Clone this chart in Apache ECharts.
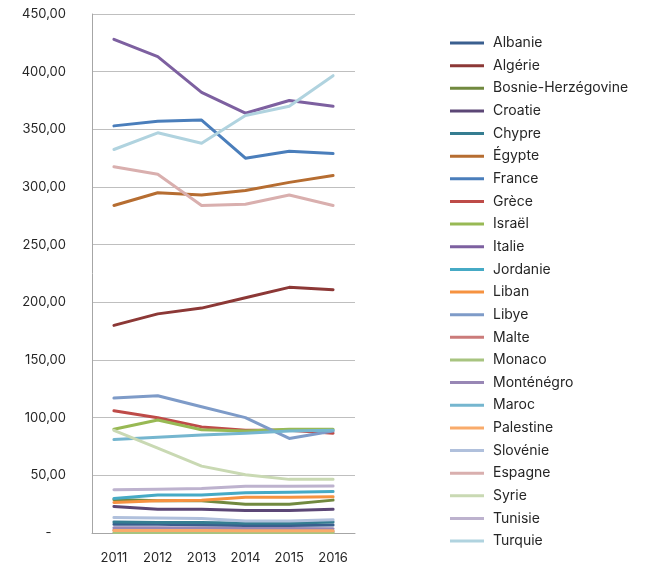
<!DOCTYPE html>
<html>
<head>
<meta charset="utf-8">
<script src="https://cdn.jsdelivr.net/npm/echarts@6/dist/echarts.min.js"></script>
<style>html,body{margin:0;padding:0;background:#fff;}#c{width:654px;height:569px;}</style>
</head>
<body>
<div id="c"></div>
<script>
var years = ['2011', '2012', '2013', '2014', '2015', '2016'];
var countries = ['Albanie', 'Algérie', 'Bosnie-Herzégovine', 'Croatie', 'Chypre', 'Égypte', 'France', 'Grèce', 'Israël', 'Italie', 'Jordanie', 'Liban', 'Libye', 'Malte', 'Monaco', 'Monténégro', 'Maroc', 'Palestine', 'Slovénie', 'Espagne', 'Syrie', 'Tunisie', 'Turquie'];
var colors = ['#3A5F8F', '#8C3836', '#71893F', '#5C4776', '#357D91', '#B66D31', '#4A7EBB', '#BE4B48', '#98B954', '#7D60A0', '#46AAC5', '#F69240', '#7E9BC8', '#CB7B7A', '#A8C480', '#9887B5', '#75B6CF', '#F9AB6B', '#B0C0DC', '#D9AFAE', '#C9D9B3', '#BDB2CE', '#B0D3DF'];

var albanie = [7.5, 7.5, 7, 6.5, 6.5, 7];
var algerie = [180, 190, 195, 204, 213, 211];
var bosnie = [29, 28, 28, 25, 25, 28.5];
var croatie = [23, 20.5, 20.5, 19.5, 19.5, 20.5];
var chypre = [9.5, 9, 9, 8.5, 8.5, 9.5];
var egypte = [284, 295, 293, 297, 304, 310];
var france = [353, 357, 358, 325, 331, 329];
var grece = [106, 100, 92, 89, 89, 86.5];
var israel = [90, 98, 89.5, 88.5, 90, 90];
var italie = [428, 413, 382, 364, 375, 370];
var jordanie = [30, 33, 33, 35, 35.3, 36];
var liban = [26.5, 28, 28.5, 31, 31, 31.5];
var libye = [117, 119, 109.5, 100, 82, 88.5];
var malte = [2.5, 2.5, 2.5, 2, 1.5, 1.5];
var monaco = [0.5, 0.5, 0.5, 0.5, 0.5, 0.5];
var montenegro = [4.5, 4.5, 4.3, 4, 4, 3.7];
var maroc = [81, 83, 85, 86.5, 88.5, 89];
var palestine = [2.2, 2.2, 2.2, 2, 2, 2];
var slovenie = [13.5, 13, 12.5, 10.5, 10.5, 11.5];
var espagne = [317.5, 311, 284, 285, 293, 284];
var syrie = [89, 73.5, 58, 50.5, 46.5, 46.5];
var tunisie = [37.5, 38, 38.5, 40.5, 40.5, 40.8];
var turquie = [332.5, 347, 338, 362, 370, 396.5];

var values = [albanie, algerie, bosnie, croatie, chypre, egypte, france, grece, israel, italie, jordanie, liban, libye, malte, monaco, montenegro, maroc, palestine, slovenie, espagne, syrie, tunisie, turquie];

var series = countries.map(function (name, i) {
  return {
    name: name,
    type: 'line',
    data: values[i],
    showSymbol: false,
    symbol: 'none',
    lineStyle: { width: 3, color: colors[i], cap: 'round', join: 'round' },
    itemStyle: { color: colors[i] },
    emphasis: { disabled: true },
    animation: false
  };
});

var chart = echarts.init(document.getElementById('c'));
chart.setOption({
  animation: false,
  color: colors,
  grid: { left: 92, right: 299, top: 14, bottom: 36, containLabel: false },
  xAxis: {
    type: 'category',
    data: years,
    boundaryGap: true,
    axisLine: { show: true, lineStyle: { color: '#A6A6A6', width: 1 } },
    axisTick: { show: false },
    axisLabel: { color: '#262626', fontFamily: 'Inter', fontSize: 13, margin: 19 },
    splitLine: { show: false }
  },
  yAxis: {
    type: 'value',
    min: 0,
    max: 450,
    interval: 50,
    axisLine: { show: true, lineStyle: { color: '#A6A6A6', width: 1 } },
    axisTick: { show: false },
    axisLabel: {
      color: '#262626', fontFamily: 'Inter', fontSize: 13, margin: 26,
      formatter: function (v) { return v === 0 ? '-    ' : v.toFixed(2).replace('.', ','); }
    },
    splitLine: { show: true, lineStyle: { color: '#BFBFBF', width: 1 } }
  },
  legend: {
    orient: 'vertical',
    left: 445,
    top: 30,
    icon: 'rect',
    itemWidth: 34,
    itemHeight: 3,
    itemGap: 6.64,
    textStyle: { color: '#262626', fontFamily: 'Inter', fontSize: 14, lineHeight: 16, padding: [0, 0, 0, 4] },
    data: countries
  },
  series: series
});
</script>
</body>
</html>
